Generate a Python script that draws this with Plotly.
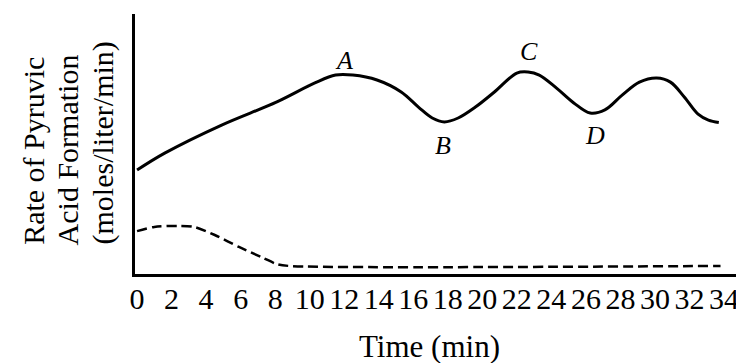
import plotly.graph_objects as go

# solid curve: rate of pyruvic acid formation (arbitrary units), time in min
time_solid = [0, 1.6, 4.9, 8.1, 10.3, 11.5, 12.5, 13.9, 15.3, 16.3, 17.1, 17.8, 18.6,
              19.6, 20.7, 22.0, 22.65, 23.3, 24.3, 25.3, 26.25, 27.1, 28.1, 29.1,
              30.1, 30.9, 31.7, 32.5, 33.1, 33.7]
rate_solid = [4.0, 4.65, 5.73, 6.62, 7.35, 7.65, 7.65, 7.46, 7.0, 6.42, 6.0, 5.85, 6.0,
              6.42, 7.0, 7.73, 7.77, 7.65, 7.15, 6.58, 6.19, 6.31, 6.88, 7.38,
              7.54, 7.38, 6.81, 6.15, 5.92, 5.83]

# dashed curve
time_dash = [0, 1.0, 2.4, 3.3, 4.5, 5.9, 7.3, 8.1, 8.8, 33.8]
rate_dash = [1.65, 1.81, 1.85, 1.81, 1.5, 1.04, 0.62, 0.38, 0.31, 0.31]

# point labels
point_names = ["A", "B", "C", "D"]
point_time = [12.0, 17.7, 22.7, 26.5]
point_rate = [8.23, 4.96, 8.54, 5.31]

tick_minutes = list(range(0, 35, 2))
y_title_lines = ["Rate of Pyruvic", "Acid Formation", "(moles/liter/min)"]

FONT = "Liberation Serif, Times New Roman, serif"

fig = go.Figure()
fig.add_trace(go.Scatter(
    x=time_solid, y=rate_solid,
    mode='lines',
    line=dict(color='black', width=3, shape='spline', smoothing=1.0),
    hoverinfo='skip'
))
fig.add_trace(go.Scatter(
    x=time_dash, y=rate_dash,
    mode='lines',
    line=dict(color='black', width=2.5, dash='10px,5px', shape='spline', smoothing=0.8),
    hoverinfo='skip'
))

for name, t, r in zip(point_names, point_time, point_rate):
    fig.add_annotation(
        x=t, y=r, text=f"<i>{name}</i>", showarrow=False,
        font=dict(family=FONT, size=26, color='black')
    )

# y axis title: three rotated lines, bottom aligned
for line_text, xpos in zip(y_title_lines, [-0.166, -0.1117, -0.0525]):
    fig.add_annotation(
        xref='paper', yref='paper', x=xpos, y=0.104,
        text=line_text, textangle=-90, showarrow=False,
        xanchor='center', yanchor='bottom',
        font=dict(family=FONT, size=30, color='black')
    )

fig.add_annotation(
    xref='paper', yref='paper', x=0.4828, y=-0.277,
    text="Time (min)", showarrow=False, xanchor='center', yanchor='middle',
    font=dict(family=FONT, size=31, color='black')
)

# page body has an 8px margin, so the figure is 8px smaller each way
fig.update_layout(
    width=736, height=355,
    paper_bgcolor='white',
    plot_bgcolor='white',
    showlegend=False,
    margin=dict(l=127, r=0, t=6, b=89),
    font=dict(family=FONT, color='black'),
    xaxis=dict(
        range=[-0.12, 35.16],
        tickvals=tick_minutes,
        ticktext=[str(t) for t in tick_minutes],
        tickfont=dict(family=FONT, size=30, color='black'),
        ticklabelstandoff=-4,
        showgrid=False, zeroline=False,
        showline=True, linecolor='black', linewidth=3,
        ticks='', fixedrange=True
    ),
    yaxis=dict(
        range=[0, 10],
        showticklabels=False,
        showgrid=False, zeroline=False,
        showline=True, linecolor='black', linewidth=3,
        ticks='', fixedrange=True
    )
)

fig.write_html("out.html")
